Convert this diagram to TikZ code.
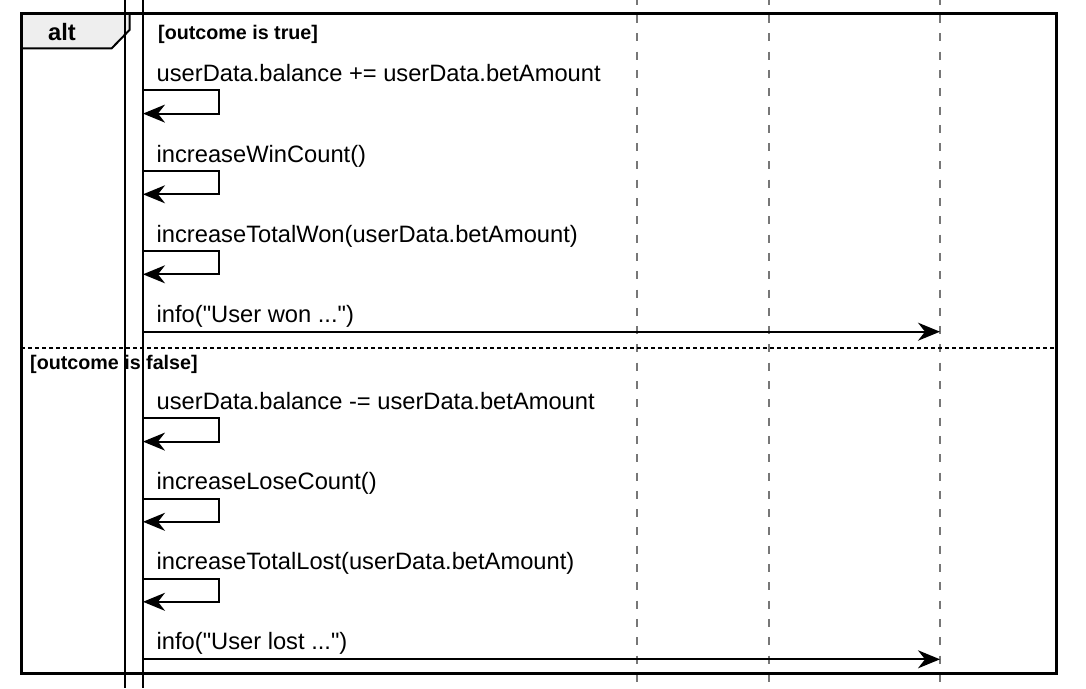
\documentclass[tikz,border=0pt]{standalone}
\usepackage{fontspec}
\setmainfont{Liberation Sans}[Ligatures=TeXOff]
\usetikzlibrary{arrows.meta}
\definecolor{tabgray}{HTML}{EEEEEE}
\definecolor{lifegray}{HTML}{777777}
\tikzset{
  msg/.style={line width=2pt, line join=miter, -{Stealth[length=22pt,width=18pt,inset=7pt]}},
  msgtext/.style={anchor=base west, inner sep=0pt, font=\fontsize{23.7}{28}\selectfont},
  guard/.style={anchor=base west, inner sep=0pt, font=\bfseries\fontsize{19.7}{24}\selectfont},
  lifeline/.style={draw=lifegray, line width=1.3pt, dash pattern=on 8pt off 10.3pt, dash phase=3.3pt},
  frameline/.style={line width=3pt},
  actline/.style={line width=2pt},
}
\begin{document}
\begin{tikzpicture}[x=1pt,y=-1pt]
\useasboundingbox (0,0) rectangle (1086,688);
% lifelines
\coordinate (LAt) at (637,0);   \coordinate (LAb) at (637,688);
\coordinate (LBt) at (769,0);   \coordinate (LBb) at (769,688);
\coordinate (LCt) at (940,0);   \coordinate (LCb) at (940,688);
\draw[lifeline] (LAt) -- (LAb);
\draw[lifeline] (LBt) -- (LBb);
\draw[lifeline] (LCt) -- (LCb);
% alt frame
\filldraw[fill=tabgray, line width=2pt] (21,13) -- (129.5,13) -- (129.5,30) -- (111.7,48.3) -- (21,48.3);
\draw[frameline] (21,13) rectangle (1056,673);
\draw[line width=1.8pt, dash pattern=on 3.5pt off 3.5pt] (21,348.3) -- (1056,348.3);
\node[anchor=base, inner sep=0pt, font=\bfseries\fontsize{23.7}{28}\selectfont] (altlbl) at (62,40) {alt};
\node[guard] (g1) at (158,39) {[outcome is true]};
\node[guard] (g2) at (30,369.5) {[outcome is false]};
% message texts
\node[msgtext] (t1) at (156.5,81.7) {userData.balance += userData.betAmount};
\node[msgtext] (t2) at (156.5,162.2) {increaseWinCount()};
\node[msgtext] (t3) at (156.5,242.3) {increaseTotalWon(userData.betAmount)};
\node[msgtext] (t4) at (156.5,322.7) {info("User won ...")};
\node[msgtext] (t5) at (156.5,409) {userData.balance -= userData.betAmount};
\node[msgtext] (t6) at (156.5,489.2) {increaseLoseCount()};
\node[msgtext] (t7) at (156.5,569.3) {increaseTotalLost(userData.betAmount)};
\node[msgtext] (t8) at (156.5,649.7) {info("User lost ...")};
% activation bar
\coordinate (Aat) at (125,0); \coordinate (Aab) at (125,688);
\coordinate (Abt) at (143,0); \coordinate (Abb) at (143,688);
\draw[actline] (Aat) -- (Aab);
\draw[actline] (Abt) -- (Abb);
% self messages
\coordinate (s1) at (143,90.3);
\coordinate (s2) at (143,171);
\coordinate (s3) at (143,251);
\coordinate (s5) at (143,418.3);
\coordinate (s6) at (143,498.5);
\coordinate (s7) at (143,578.5);
\foreach \s in {s1,s2,s3,s5,s6,s7}{
  \draw[msg] (\s) -- ++(76,0) -- ++(0,23.3) -- ++(-76,0);
}
% info messages
\coordinate (m4a) at (143,331.7); \coordinate (m4b) at (940,331.7);
\coordinate (m8a) at (143,659.3); \coordinate (m8b) at (940,659.3);
\draw[msg] (m4a) -- (m4b);
\draw[msg] (m8a) -- (m8b);
\end{tikzpicture}
\end{document}
